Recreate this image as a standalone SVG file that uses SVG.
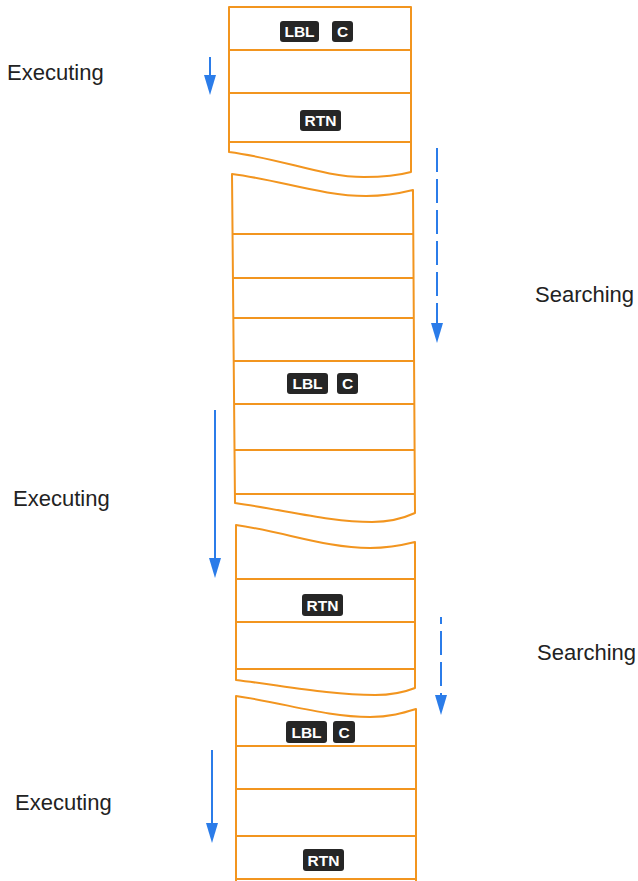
<svg xmlns="http://www.w3.org/2000/svg" width="638" height="881" viewBox="0 0 638 881">
<style>
.tape{fill:none;stroke:#f2951f;stroke-width:2;stroke-linejoin:round}
.key rect{fill:#262626}
.key text{fill:#fff;font-family:"Liberation Sans",Arial,sans-serif;font-weight:bold;font-size:15.5px;text-anchor:middle}
.lbl{font-family:"Liberation Sans",Arial,sans-serif;font-size:22px;fill:#222}
.arr{stroke:#2b7ce9;stroke-width:2;fill:none}
.dash{stroke-dasharray:24 7}
</style>
<defs>
<marker id="ah" viewBox="0 0 20 12" refX="10" refY="6" markerWidth="20" markerHeight="12" markerUnits="userSpaceOnUse" orient="auto">
<path d="M0,0 L20,6 L0,12 z" fill="#2b7ce9"/>
</marker>
</defs>
<rect width="638" height="881" fill="#fff"/>

<g id="segment1">
<path class="tape" d="M229,152 L229,7 L411,7 L411,172 C400,175 388,177 364,177 C322,177 284,159 229,152 Z"/>
<path class="tape" d="M229,50 H411 M229,93 H411 M229,142 H411"/>
<g class="key"><rect x="280" y="21" width="39" height="21" rx="3"/><text x="299.5" y="37">LBL</text></g>
<g class="key"><rect x="332" y="21" width="21" height="21" rx="3"/><text x="342.5" y="37">C</text></g>
<g class="key"><rect x="300" y="110" width="41" height="21" rx="3"/><text x="320.5" y="126">RTN</text></g>
</g>

<g id="segment2">
<path class="tape" d="M232,174 C280,180 322,196 366,196 C388,196 401,193 413,190 L415,513 C404,518 392,522 372,522 C330,522 285,510 235,503 Z"/>
<path class="tape" d="M232,234 H413 M233,278 H414 M233,318 H414 M233,361 H414 M234,404 H414 M234,450 H415 M234,494 H415"/>
<g class="key"><rect x="287" y="373" width="41" height="21" rx="3"/><text x="307.5" y="389">LBL</text></g>
<g class="key"><rect x="337" y="373" width="21" height="21" rx="3"/><text x="347.5" y="389">C</text></g>
</g>

<g id="segment3">
<path class="tape" d="M236,525 C285,532 326,548 370,548 C390,548 403,545 415,542 L415,688 C405,692 393,695 375,695 C330,695 285,686 236,680 Z"/>
<path class="tape" d="M236,579 H415 M236,622 H415 M236,669 H415"/>
<g class="key"><rect x="302" y="594" width="41" height="22" rx="3"/><text x="322.5" y="610.5">RTN</text></g>
</g>

<g id="segment4">
<path class="tape" d="M236,881 L236,696 C285,703 326,717 370,717 C390,717 403,713 416,709 L416,881"/>
<path class="tape" d="M236,746 H416 M236,789 H416 M236,836 H416 M236,879 H416"/>
<g class="key"><rect x="286" y="721" width="41" height="22" rx="3"/><text x="306.5" y="737.5">LBL</text></g>
<g class="key"><rect x="333" y="721" width="22" height="22" rx="3"/><text x="344" y="737.5">C</text></g>
<g class="key"><rect x="303" y="849" width="41" height="22" rx="3"/><text x="323.5" y="865.5">RTN</text></g>
</g>

<g id="labels">
<text class="lbl" x="7" y="80">Executing</text>
<text class="lbl" x="535" y="302">Searching</text>
<text class="lbl" x="13" y="506">Executing</text>
<text class="lbl" x="537" y="660">Searching</text>
<text class="lbl" x="15" y="810">Executing</text>
</g>

<g id="connectors">
<line class="arr" x1="210" y1="57" x2="210" y2="85" marker-end="url(#ah)"/>
<line class="arr dash" x1="437" y1="148" x2="437" y2="333" marker-end="url(#ah)"/>
<line class="arr" x1="215" y1="410" x2="215" y2="568" marker-end="url(#ah)"/>
<line class="arr dash" x1="441" y1="617" x2="441" y2="705" marker-end="url(#ah)" stroke-dashoffset="17"/>
<line class="arr" x1="212" y1="750" x2="212" y2="833" marker-end="url(#ah)"/>
</g>
</svg>
